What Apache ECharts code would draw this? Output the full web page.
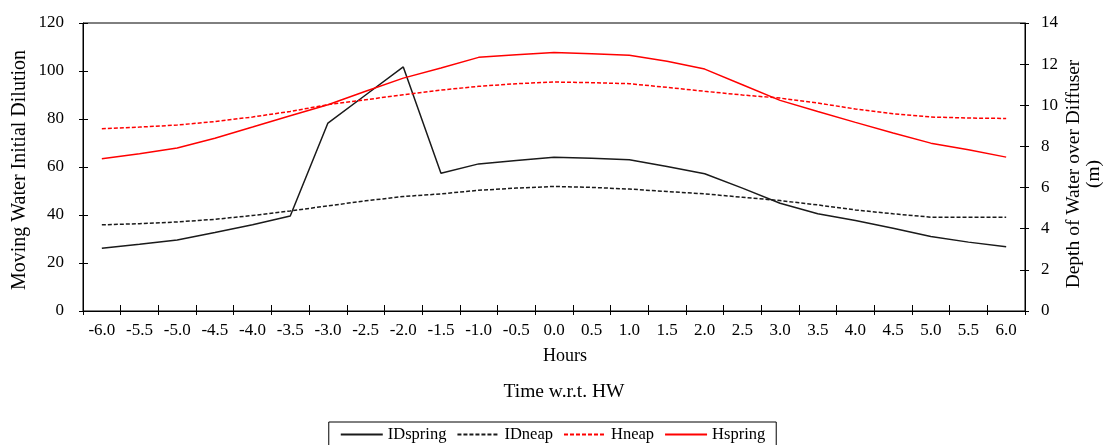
<!DOCTYPE html>
<html>
<head>
<meta charset="utf-8">
<script src="https://cdn.jsdelivr.net/npm/echarts@6/dist/echarts.min.js"></script>
<style>
html,body{margin:0;padding:0;background:#fff;}
#chart{width:1105px;height:445px;}
</style>
</head>
<body>
<div id="chart"></div>
<script>
var hours = ['-6.0','-5.5','-5.0','-4.5','-4.0','-3.5','-3.0','-2.5','-2.0','-1.5','-1.0','-0.5','0.0','0.5','1.0','1.5','2.0','2.5','3.0','3.5','4.0','4.5','5.0','5.5','6.0'];
var IDspring = [26.1,27.8,29.6,32.7,35.9,39.6,78.3,90.0,101.7,57.4,61.3,62.7,64.1,63.6,63.0,60.2,57.2,51.2,44.9,40.5,37.7,34.5,31.0,28.7,26.8];
var IDneap = [35.9,36.4,37.1,38.2,39.8,41.7,43.8,45.9,47.7,48.8,50.3,51.2,51.9,51.5,50.8,49.8,48.8,47.4,46.0,44.2,42.1,40.5,39.1,39.1,39.1];
var Hneap = [8.86,8.94,9.04,9.21,9.43,9.70,10.03,10.27,10.51,10.74,10.92,11.05,11.13,11.10,11.05,10.87,10.68,10.50,10.35,10.11,9.82,9.59,9.43,9.38,9.36];
var Hspring = [7.40,7.64,7.92,8.40,8.94,9.49,10.03,10.68,11.32,11.81,12.33,12.46,12.57,12.51,12.43,12.14,11.76,11.00,10.24,9.70,9.17,8.65,8.16,7.84,7.48];
var leftTicks = {min:0, max:120, interval:20};
var rightTicks = {min:0, max:14, interval:2};

var FONT = 'Liberation Serif';
var chart = echarts.init(document.getElementById('chart'), null, {renderer:'canvas'});
var axisLineStyle = {color:'#000', width:1};
var lbl = {color:'#000', fontFamily:FONT, fontSize:17};
function yAx(t, pos, margin, inside) {
  return {type:'value', min:t.min, max:t.max, interval:t.interval, position:pos,
    axisLine:{show:!inside, onZero:false, lineStyle:axisLineStyle},
    axisTick:{show:true, inside:inside, length:inside ? 5 : 4, lineStyle:axisLineStyle},
    axisLabel:inside ? {show:false} : Object.assign({margin:margin}, lbl),
    splitLine:{show:false}};
}
function xAx(inside) {
  return {type:'category', data:hours, boundaryGap:true, position:'bottom',
    axisLine:{show:!inside, lineStyle:axisLineStyle},
    axisTick:{show:true, inside:inside, interval:0, length:inside ? 6 : 4, lineStyle:axisLineStyle},
    axisLabel:inside ? {show:false} : Object.assign({interval:0, margin:11}, lbl),
    splitLine:{show:false}};
}
chart.setOption({
  animation:false,
  backgroundColor:'#fff',
  grid:{left:83, right:80, top:23, bottom:134, show:true, borderColor:'#000', borderWidth:1},
  xAxis:[xAx(false), xAx(true)],
  yAxis:[yAx(leftTicks,'left',19,false), yAx(rightTicks,'right',16,false), yAx(leftTicks,'left',0,true), yAx(rightTicks,'right',0,true)],
  legend:{
    bottom:-6, left:'center',
    itemWidth:42, itemHeight:10, itemGap:10,
    borderColor:'#000', borderWidth:1, padding:[4,11,8,11],
    itemStyle:{opacity:0},
    textStyle:{color:'#000', fontFamily:FONT, fontSize:16.5},
    data:['IDspring','IDneap','Hneap','Hspring']
  },
  graphic:[
    {type:'text', x:565, y:356, style:{text:'Hours', fill:'#000', font:'18px "Liberation Serif"', textAlign:'center', textVerticalAlign:'middle'}},
    {type:'text', x:564, y:392, style:{text:'Time w.r.t. HW', fill:'#000', font:'19.5px "Liberation Serif"', textAlign:'center', textVerticalAlign:'middle'}},
    {type:'text', x:20, y:170, rotation:Math.PI/2, style:{text:'Moving Water Initial Dilution', fill:'#000', font:'20px "Liberation Serif"', textAlign:'center', textVerticalAlign:'middle'}},
    {type:'text', x:1084, y:174, rotation:Math.PI/2, style:{text:'Depth of Water over Diffuser\n(m)', fill:'#000', font:'19.5px "Liberation Serif"', textAlign:'center', textVerticalAlign:'middle', lineHeight:20}}
  ],
  series:[
    {name:'IDspring', type:'line', xAxisIndex:0, yAxisIndex:0, data:IDspring, symbol:'none', lineStyle:{color:'#1a1a1a', width:1.5}, itemStyle:{color:'#1a1a1a'}},
    {name:'IDneap', type:'line', xAxisIndex:0, yAxisIndex:0, data:IDneap, symbol:'none', lineStyle:{color:'#1a1a1a', width:1.5, type:[4,2]}, itemStyle:{color:'#1a1a1a'}},
    {name:'Hneap', type:'line', xAxisIndex:0, yAxisIndex:1, data:Hneap, symbol:'none', lineStyle:{color:'#ff0000', width:1.5, type:[4,2]}, itemStyle:{color:'#ff0000'}},
    {name:'Hspring', type:'line', xAxisIndex:0, yAxisIndex:1, data:Hspring, symbol:'none', lineStyle:{color:'#ff0000', width:1.5}, itemStyle:{color:'#ff0000'}}
  ]
});
</script>
</body>
</html>
